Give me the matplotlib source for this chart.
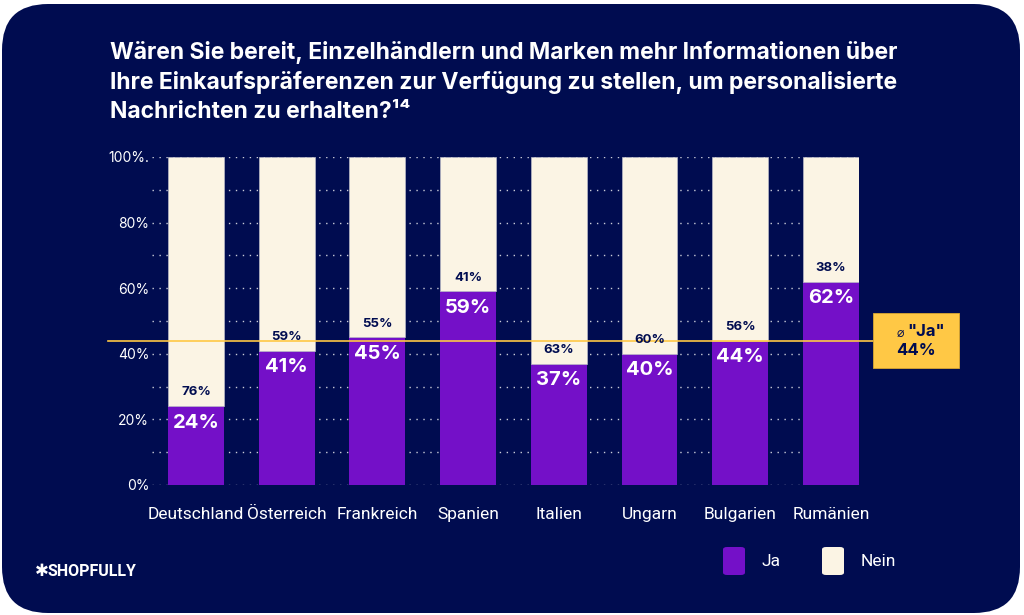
import matplotlib
matplotlib.use("Agg")
import matplotlib.pyplot as plt
from matplotlib.patches import FancyBboxPatch, Rectangle

countries = ["Deutschland", "Österreich", "Frankreich", "Spanien",
             "Italien", "Ungarn", "Bulgarien", "Rumänien"]
ja = [24, 41, 45, 59, 37, 40, 44, 62]
nein = [76, 59, 55, 41, 63, 60, 56, 38]
avg_ja = 44
yticks = [0, 20, 40, 60, 80, 100]
ytick_labels = ["0%", "20%", "40%", "60%", "80%", "100%."]

NAVY = "#000C50"
PURPLE = "#7410C8"
CREAM = "#FBF4E4"
GOLD = "#FFC845"
W, H = 1024, 615

plt.rcParams["font.family"] = ["Inter", "DejaVu Sans"]

fig = plt.figure(figsize=(W / 100, H / 100), dpi=100)
fig.patch.set_facecolor("white")
fig.add_artist(FancyBboxPatch((2 / W, 2 / H), 1018 / W, 609 / H,
                              boxstyle="round,pad=0,rounding_size=0.045",
                              transform=fig.transFigure, facecolor=NAVY,
                              edgecolor="none", mutation_aspect=W / H, zorder=0))

# title
title = ("Wären Sie bereit, Einzelhändlern und Marken mehr Informationen über\n"
         "Ihre Einkaufspräferenzen zur Verfügung zu stellen, um personalisierte\n"
         "Nachrichten zu erhalten?¹⁴")
fig.text(110 / W, 1 - 41 / H, title, color="white", fontsize=16.5,
         fontweight="bold", va="top", ha="left", linespacing=1.4)

ax = fig.add_axes([152 / W, 1 - 485 / H, 707 / W, 328 / H])
ax.set_facecolor("none")
x = list(range(len(countries)))
bw = 0.617
ax.bar(x, ja, width=bw, color=PURPLE, zorder=3)
ax.bar(x, nein, bottom=ja, width=bw, color=CREAM, edgecolor="#b9b9c6",
       linewidth=0.5, zorder=3)
for i in x:
    ax.annotate(f"{ja[i]}%", (i, ja[i]), xytext=(0, -12), textcoords="offset points",
                ha="center", va="center", color="white", fontsize=14.5,
                fontweight="bold", zorder=5)
    ax.annotate(f"{nein[i]}%", (i, ja[i]), xytext=(0, 10), textcoords="offset points",
                ha="center", va="center", color=NAVY, fontsize=9.5,
                fontweight="bold", zorder=5)

ax.set_xlim(-0.485, 7.31)
ax.set_ylim(0, 100)
ax.set_yticks(yticks, ytick_labels)
ax.set_yticks(range(10, 100, 20), minor=True)
ax.grid(axis="y", which="both", color="#c9cbd8", linestyle=(0, (1, 4)),
        linewidth=1, zorder=1)
ax.set_xticks(x, countries)
for lbl in ax.get_xticklabels():
    lbl.set_family(["Roboto", "DejaVu Sans"])
ax.tick_params(axis="both", which="both", length=0, colors="white")
ax.tick_params(axis="y", labelsize=10, pad=2)
ax.tick_params(axis="x", labelsize=12.5, pad=16)
for s in ax.spines.values():
    s.set_visible(False)

# average line and box
ax.axhline(avg_ja, xmin=(108 - 152) / 707, xmax=(873 - 152) / 707,
           color=GOLD, linewidth=1.2, clip_on=False, zorder=4)
fig.add_artist(Rectangle((873 / W, 1 - 368 / H), 86 / W, 55 / H,
                         transform=fig.transFigure, facecolor=GOLD,
                         edgecolor="#d9a630", linewidth=0.6, zorder=6))
fig.text(904 / W, 1 - 333 / H, "⌀", color=NAVY, fontsize=9, ha="right",
         va="center", family="DejaVu Sans", zorder=7)
fig.text(907 / W, 1 - 332 / H, '"Ja"', color=NAVY, fontsize=12,
         fontweight="bold", ha="left", va="center", zorder=7)
fig.text(916 / W, 1 - 351 / H, f"{avg_ja}%", color=NAVY, fontsize=12,
         fontweight="bold", ha="center", va="center", zorder=7)

# legend
for lx, col, lab in [(723, PURPLE, "Ja"), (822, CREAM, "Nein")]:
    fig.add_artist(FancyBboxPatch((lx / W, 1 - 575 / H), 22 / W, 28 / H,
                                  boxstyle="round,pad=0,rounding_size=0.004",
                                  transform=fig.transFigure, facecolor=col,
                                  edgecolor="none", zorder=6))
    fig.text((lx + 39) / W, 1 - 562 / H, lab, color="white", fontsize=12.5,
             ha="left", va="center", family=["Roboto", "DejaVu Sans"])

# logo
fig.text(35 / W, 1 - 571 / H, "✱", color="white", fontsize=12,
         fontweight="bold", ha="left", va="center", family="DejaVu Sans")
fig.text(48 / W, 1 - 571 / H, "SHOPFULLY", color="white", fontsize=11.5,
         fontweight="bold", ha="left", va="center",
         family=["Liberation Sans Narrow", "Roboto", "DejaVu Sans"])

fig.savefig("out.png", dpi=100, facecolor=fig.get_facecolor())
